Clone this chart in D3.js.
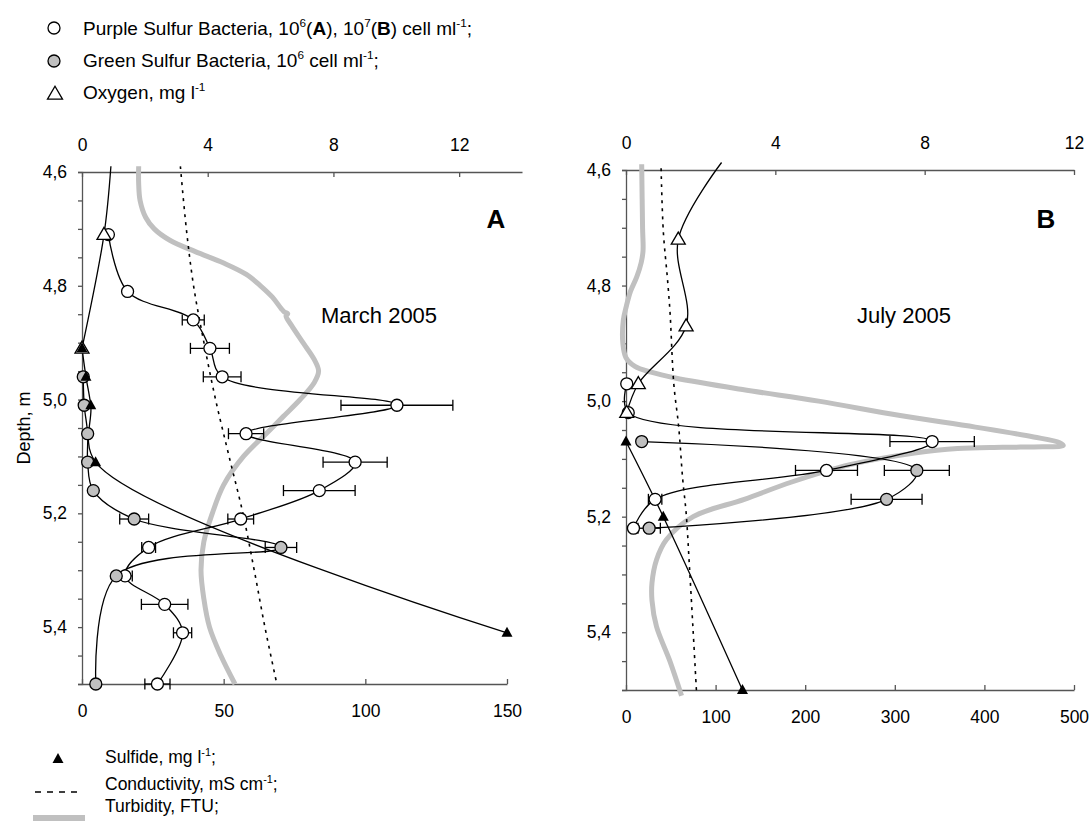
<!DOCTYPE html>
<html>
<head>
<meta charset="utf-8">
<script src="https://cdn.jsdelivr.net/npm/d3@7"></script>
<style>
  body { margin: 0; background: #fff; }
  svg { font-family: "Liberation Sans", Arial, sans-serif; }
</style>
</head>
<body>
<svg id="chart" width="1092" height="822"></svg>
<script>
// ---- data : [depth m, value, error] ----
const depthTicks = [4.6, 4.65, 4.7, 4.75, 4.8, 4.85, 4.9, 4.95, 5.0, 5.05, 5.1, 5.15, 5.2, 5.25, 5.3, 5.35, 5.4, 5.45, 5.5];
const topTicksA = [0, 4, 8, 12];
const botTicksA = [0, 50, 100, 150];
const topTicksB = [0, 4, 8, 12];
const botTicksB = [0, 100, 200, 300, 400, 500];

// March 2005 (A)
const purpleA = [[4.71, 0.84, 0], [4.81, 1.45, 0], [4.86, 3.54, 0.35], [4.91, 4.07, 0.62], [4.96, 4.46, 0.60],
  [5.01, 10.02, 1.78], [5.06, 5.22, 0.56], [5.11, 8.69, 1.02], [5.16, 7.55, 1.14], [5.21, 5.05, 0.41],
  [5.26, 2.12, 0.22], [5.31, 1.37, 0.23], [5.36, 2.63, 0.74], [5.41, 3.20, 0.29], [5.50, 2.40, 0.40]];
const greenA = [[4.96, 0.04, 0], [5.01, 0.07, 0], [5.06, 0.18, 0], [5.11, 0.18, 0], [5.16, 0.36, 0],
  [5.21, 1.66, 0.46], [5.26, 6.33, 0.50], [5.31, 1.09, 0], [5.50, 0.44, 0]];
const oxygenA = [[4.59, 0.92], [4.71, 0.70], [4.91, 0]];
const sulfideA = [[4.91, 0], [4.96, 1.4], [5.01, 3.1], [5.11, 4.8], [5.41, 150]];
const condA = [[4.59, 3.13], [4.7, 3.32], [4.8, 3.55], [4.9, 3.88], [5.0, 4.25], [5.1, 4.68], [5.2, 5.12],
  [5.3, 5.48], [5.4, 5.82], [5.5, 6.2]];
const turbA = [[4.59, 20], [4.62, 20], [4.65, 20.5], [4.68, 22.5], [4.70, 25.5], [4.72, 31], [4.74, 40], [4.76, 50],
  [4.78, 58], [4.80, 63], [4.82, 67.2], [4.84, 70.3], [4.846, 71.4], [4.849, 72.6], [4.853, 72.0], [4.87, 74],
  [4.90, 78], [4.93, 82], [4.95, 83.5], [4.97, 82],
  [5.00, 77], [5.03, 71], [5.06, 65], [5.10, 57], [5.15, 50], [5.20, 46], [5.25, 43], [5.30, 42], [5.35, 43],
  [5.40, 45], [5.45, 49], [5.50, 54]];

// July 2005 (B)
const purpleB = [[4.97, 0.02, 0], [5.02, 0.06, 0], [5.07, 8.2, 1.13], [5.12, 5.37, 0.83], [5.17, 0.78, 0.18], [5.22, 0.2, 0]];
const greenB = [[5.07, 0.42, 0], [5.12, 7.79, 0.87], [5.17, 6.98, 0.95], [5.22, 0.62, 0.3]];
const oxygenB = [[4.587, 2.56], [4.72, 1.40], [4.87, 1.61], [4.97, 0.33], [5.02, 0.02]];
const sulfideB = [[5.07, 0], [5.20, 41.6], [5.50, 130]];
const condB = [[4.597, 0.94], [4.707, 1.0], [4.788, 1.11], [4.847, 1.18], [4.97, 1.28], [5.044, 1.41], [5.136, 1.52],
  [5.193, 1.61], [5.287, 1.70], [5.40, 1.80], [5.505, 1.89]];
const turbB = [[4.59, 17.5], [4.70, 18.5], [4.74, 19], [4.76, 17], [4.785, 12], [4.81, 5], [4.835, 0.5], [4.86, -3],
  [4.90, -3.5], [4.925, 0], [4.94, 10], [4.95, 28], [4.96, 55], [4.98, 130], [5.00, 215], [5.025, 306], [5.045, 390],
  [5.062, 455], [5.072, 484], [5.077, 488], [5.079, 465], [5.080, 420], [5.082, 370], [5.09, 322], [5.11, 250],
  [5.14, 185], [5.17, 132], [5.20, 75], [5.24, 45], [5.275, 34], [5.315, 29], [5.345, 29], [5.39, 34], [5.45, 49], [5.51, 62]];

const svg = d3.select("#chart");
const axisColor = "#555";
const grayFill = "#c0c0c0";

function tri(w, h) {
  return "M0," + (-h * 0.6) + "L" + (w / 2) + "," + (h * 0.4) + "L" + (-w / 2) + "," + (h * 0.4) + "Z";
}

function styleAxis(g, size) {
  g.attr("font-family", null).attr("font-size", null);
  g.select(".domain").attr("stroke", axisColor).attr("stroke-width", 1.3);
  g.selectAll(".tick line").attr("stroke", axisColor).attr("stroke-width", 1.3);
  g.selectAll(".tick text").attr("fill", "#000").style("font-size", size + "px");
}

function drawPanel(cfg) {
  const g = svg.append("g");
  const y = d3.scaleLinear().domain([4.6, 5.5]).range(cfg.yRange);
  const xTop = d3.scaleLinear().domain(cfg.topDomain).range(cfg.topRange);
  const xBot = d3.scaleLinear().domain(cfg.botDomain).range(cfg.botRange);

  // axes
  g.append("g").attr("transform", "translate(" + cfg.topRange[0] + ",0)")
    .call(d3.axisLeft(y).tickValues(depthTicks).tickSize(4).tickPadding(11)
      .tickFormat(d => Math.round(d * 100) % 20 === 0 ? d.toFixed(1).replace(".", ",") : ""))
    .call(s => styleAxis(s, 17.5));
  g.append("g").attr("transform", "translate(0," + cfg.yRange[0] + ")")
    .call(d3.axisTop(xTop).tickValues(cfg.topTicks).tickSizeInner(-5).tickSizeOuter(0).tickPadding(21))
    .call(s => styleAxis(s, 17.5));
  g.append("g").attr("transform", "translate(0," + cfg.yRange[1] + ")")
    .call(d3.axisBottom(xBot).tickValues(cfg.botTicks).tickSizeInner(-5).tickSizeOuter(0).tickPadding(21))
    .call(s => styleAxis(s, 17.5));

  const curve = d3.curveCatmullRom.alpha(0.5);
  const lineOf = xs => d3.line().x(d => xs(d[1])).y(d => y(d[0])).curve(curve);

  // turbidity and conductivity profiles
  g.append("path").datum(cfg.turb).attr("d", lineOf(xBot))
    .attr("fill", "none").attr("stroke", grayFill).attr("stroke-width", 5);
  g.append("path").datum(cfg.cond).attr("d", lineOf(xTop))
    .attr("fill", "none").attr("stroke", "#000").attr("stroke-width", 1.6).attr("stroke-dasharray", "3,5");

  // data lines
  [[cfg.oxygen, xTop], [cfg.sulfide, xBot], [cfg.green, xTop], [cfg.purple, xTop]].forEach(([data, xs]) => {
    g.append("path").datum(data).attr("d", lineOf(xs))
      .attr("fill", "none").attr("stroke", "#000").attr("stroke-width", 1.3);
  });

  // error bars
  const withErr = cfg.purple.concat(cfg.green).filter(d => d[2] > 0);
  const eb = g.append("g").attr("stroke", "#000").attr("stroke-width", 1.3);
  withErr.forEach(d => {
    const x0 = xTop(d[1] - d[2]), x1 = xTop(d[1] + d[2]), yy = y(d[0]);
    eb.append("line").attr("x1", x0).attr("x2", x1).attr("y1", yy).attr("y2", yy);
    eb.append("line").attr("x1", x0).attr("x2", x0).attr("y1", yy - 5.5).attr("y2", yy + 5.5);
    eb.append("line").attr("x1", x1).attr("x2", x1).attr("y1", yy - 5.5).attr("y2", yy + 5.5);
  });

  // markers
  g.append("g").selectAll("circle").data(cfg.purple).join("circle")
    .attr("cx", d => xTop(d[1])).attr("cy", d => y(d[0])).attr("r", 6)
    .attr("fill", "#fff").attr("stroke", "#000").attr("stroke-width", 1.3);
  g.append("g").selectAll("circle").data(cfg.green).join("circle")
    .attr("cx", d => xTop(d[1])).attr("cy", d => y(d[0])).attr("r", 6)
    .attr("fill", grayFill).attr("stroke", "#000").attr("stroke-width", 1.3);
  g.append("g").selectAll("path").data(cfg.oxygen.filter(d => d[0] >= 4.7)).join("path")
    .attr("transform", d => "translate(" + xTop(d[1]) + "," + y(d[0]) + ")")
    .attr("d", tri(14, 12)).attr("fill", "#fff").attr("stroke", "#000").attr("stroke-width", 1.3);
  g.append("g").selectAll("path").data(cfg.sulfide).join("path")
    .attr("transform", d => "translate(" + xBot(d[1]) + "," + y(d[0]) + ")")
    .attr("d", tri(11, 10)).attr("fill", "#000");

  // panel captions
  g.append("text").attr("x", cfg.letterX).attr("y", 228).attr("text-anchor", "middle")
    .style("font-size", "26px").style("font-weight", "bold").text(cfg.letter);
  g.append("text").attr("x", cfg.dateX).attr("y", 323).attr("text-anchor", "middle")
    .style("font-size", "22px").text(cfg.date);
}

drawPanel({
  yRange: [172, 684], topDomain: [0, 14], topRange: [82, 522], botDomain: [0, 150], botRange: [82, 507],
  topTicks: topTicksA, botTicks: botTicksA,
  purple: purpleA, green: greenA, oxygen: oxygenA, sulfide: sulfideA, cond: condA, turb: turbA,
  letter: "A", letterX: 496, date: "March 2005", dateX: 379
});
drawPanel({
  yRange: [170, 690], topDomain: [0, 12], topRange: [626, 1074], botDomain: [0, 500], botRange: [626, 1074],
  topTicks: topTicksB, botTicks: botTicksB,
  purple: purpleB, green: greenB, oxygen: oxygenB, sulfide: sulfideB, cond: condB, turb: turbB,
  letter: "B", letterX: 1046, date: "July 2005", dateX: 904
});

// y axis title
svg.append("text").attr("transform", "translate(30,428) rotate(-90)").attr("text-anchor", "middle")
  .style("font-size", "18px").text("Depth, m");

// rich text helper: parts = [text, kind] kind: "", "sup", "b"
function rich(x, y, size, parts) {
  const t = svg.append("text").attr("x", x).attr("y", y).style("font-size", size + "px");
  let shifted = false;
  parts.forEach(([s, kind]) => {
    const ts = t.append("tspan").text(s);
    if (kind === "sup") {
      ts.style("font-size", (size * 0.62) + "px").attr("dy", shifted ? 0 : -size * 0.42);
      shifted = true;
    } else {
      if (shifted) ts.attr("dy", size * 0.42);
      shifted = false;
      if (kind === "b") ts.style("font-weight", "bold");
    }
  });
}

// top legend
svg.append("circle").attr("cx", 54).attr("cy", 28).attr("r", 6).attr("fill", "#fff").attr("stroke", "#000").attr("stroke-width", 1.3);
rich(83, 35, 19, [["Purple Sulfur Bacteria, 10", ""], ["6", "sup"], ["(", ""], ["A", "b"], ["), 10", ""], ["7", "sup"],
  ["(", ""], ["B", "b"], [") cell ml", ""], ["-1", "sup"], [";", ""]]);
svg.append("circle").attr("cx", 54).attr("cy", 61).attr("r", 6).attr("fill", grayFill).attr("stroke", "#000").attr("stroke-width", 1.3);
rich(83, 67, 19, [["Green Sulfur Bacteria, 10", ""], ["6", "sup"], [" cell ml", ""], ["-1", "sup"], [";", ""]]);
svg.append("path").attr("transform", "translate(55,94)").attr("d", tri(15, 13))
  .attr("fill", "#fff").attr("stroke", "#000").attr("stroke-width", 1.3);
rich(83, 99, 19, [["Oxygen, mg l", ""], ["-1", "sup"]]);

// bottom legend
svg.append("path").attr("transform", "translate(58,759)").attr("d", tri(11, 10)).attr("fill", "#000");
rich(105, 763, 17.5, [["Sulfide, mg l", ""], ["-1", "sup"], [";", ""]]);
svg.append("line").attr("x1", 35).attr("x2", 82).attr("y1", 792).attr("y2", 792)
  .attr("stroke", "#000").attr("stroke-width", 1.3).attr("stroke-dasharray", "6,6");
rich(105, 790, 17.5, [["Conductivity, mS cm", ""], ["-1", "sup"], [";", ""]]);
svg.append("rect").attr("x", 33).attr("y", 815).attr("width", 52).attr("height", 6).attr("fill", grayFill);
rich(105, 812, 17.5, [["Turbidity, FTU;", ""]]);
</script>
</body>
</html>
